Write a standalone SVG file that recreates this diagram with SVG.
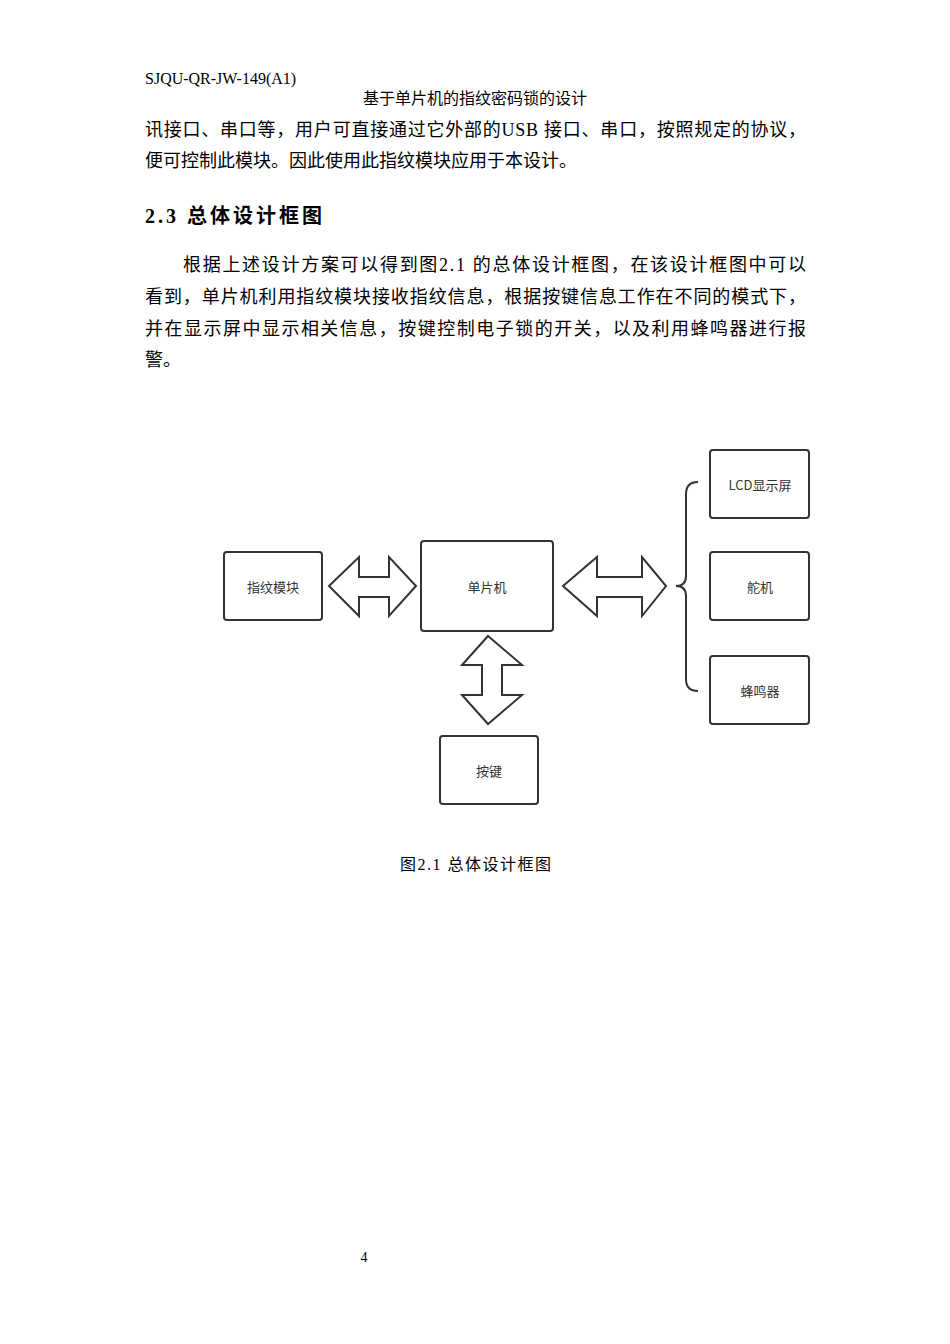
<svg xmlns="http://www.w3.org/2000/svg" width="950" height="1344" viewBox="0 0 950 1344">
<style>
.t{font-family:"Liberation Serif","Noto Sans CJK SC",serif;fill:#000}
.b{font-size:18px}
.box{fill:#fff;stroke:#333;stroke-width:2}
.lbl{font-family:"Noto Sans CJK SC",sans-serif;font-size:13px;fill:#333;text-anchor:middle;dominant-baseline:central}
.arr{fill:#fff;stroke:#333;stroke-width:2;stroke-linejoin:miter}
</style>
<rect width="950" height="1344" fill="#fff"/>
<text class="t" x="145" y="84" font-size="16">SJQU-QR-JW-149(A1)</text>
<text class="t" x="475" y="104" font-size="16" text-anchor="middle">基于单片机的指纹密码锁的设计</text>
<text class="t b" x="145" y="136" textLength="661" lengthAdjust="spacing">讯接口、串口等，用户可直接通过它外部的USB 接口、串口，按照规定的协议，</text>
<text class="t b" x="145" y="167">便可控制此模块。因此使用此指纹模块应用于本设计。</text>
<text class="t" x="145" y="223" font-size="20" font-weight="bold" textLength="177" lengthAdjust="spacing">2.3 总体设计框图</text>
<text class="t b" x="183" y="271" textLength="623" lengthAdjust="spacing">根据上述设计方案可以得到图2.1 的总体设计框图，在该设计框图中可以</text>
<text class="t b" x="145" y="303" textLength="661" lengthAdjust="spacing">看到，单片机利用指纹模块接收指纹信息，根据按键信息工作在不同的模式下，</text>
<text class="t b" x="145" y="335" textLength="661" lengthAdjust="spacing">并在显示屏中显示相关信息，按键控制电子锁的开关，以及利用蜂鸣器进行报</text>
<text class="t b" x="145" y="366">警。</text>
<g id="n-fp"><rect class="box" x="224" y="552" width="98" height="68" rx="3"/><text class="lbl" x="273" y="586">指纹模块</text></g>
<g id="n-mcu"><rect class="box" x="421" y="541" width="132" height="90" rx="3"/><text class="lbl" x="487" y="586">单片机</text></g>
<g id="n-key"><rect class="box" x="440" y="736" width="98" height="68" rx="3"/><text class="lbl" x="489" y="770">按键</text></g>
<g id="n-lcd"><rect class="box" x="710" y="450" width="99" height="68" rx="3"/><text class="lbl" x="760" y="484">LCD显示屏</text></g>
<g id="n-servo"><rect class="box" x="710" y="552" width="99" height="68" rx="3"/><text class="lbl" x="760" y="586">舵机</text></g>
<g id="n-buzz"><rect class="box" x="710" y="656" width="99" height="68" rx="3"/><text class="lbl" x="760" y="690">蜂鸣器</text></g>
<g id="connectors">
<polygon class="arr" points="329,586 359,557 359,577 389,577 389,557 416,586 389,616 389,597 359,597 359,616"/>
<polygon class="arr" points="563,586 597,557 597,577 642,577 642,557 666,586 642,616 642,597 597,597 597,616"/>
<polygon class="arr" points="488,636 522,665 502,665 502,695 522,695 488,724 462,695 482,695 482,665 462,665"/>
<path d="M698,482 Q686,482 686,494 L686,576 Q686,586 676,586 Q686,586 686,596 L686,679 Q686,691 698,691" fill="none" stroke="#333" stroke-width="2"/>
</g>
<text class="t" x="400" y="870" font-size="16" textLength="151" lengthAdjust="spacing">图2.1 总体设计框图</text>
<text class="t" x="364" y="1262" font-size="14" text-anchor="middle">4</text>
</svg>
